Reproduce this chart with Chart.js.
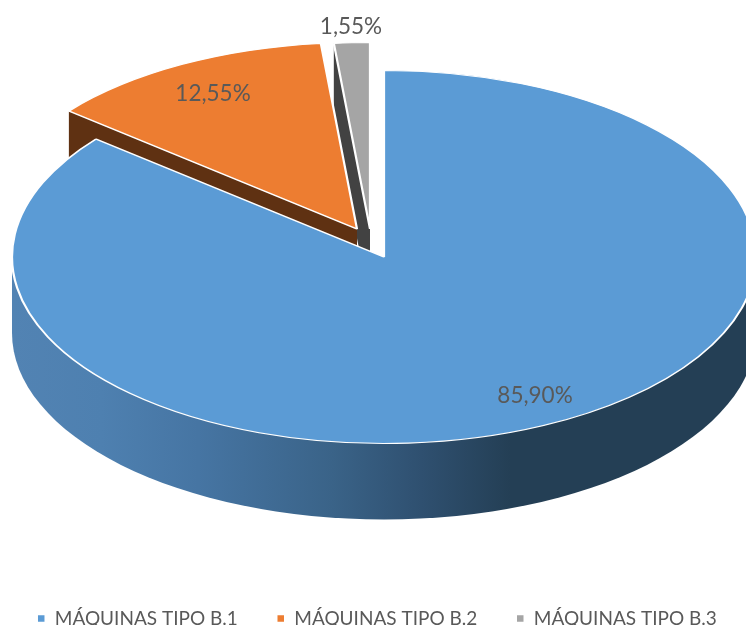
<!DOCTYPE html>
<html><head><meta charset="utf-8">
<style>html,body{margin:0;padding:0;background:#fff}canvas{display:block}</style>
<script src="https://cdn.jsdelivr.net/npm/chart.js@4"></script></head>
<body><canvas id="c" width="746" height="625"></canvas>
<script>
const categories = ['MÁQUINAS TIPO B.1', 'MÁQUINAS TIPO B.2', 'MÁQUINAS TIPO B.3'];
const values = [85.90, 12.55, 1.55];
const colors = ['#5B9BD5', '#ED7D31', '#A5A5A5'];
const wallColors = ['#2F5478', '#5F3112', '#424242'];
const sliceCenters = [[384, 257], [357, 229], [370, 229]];
const labelSpots = [[535, 396], [213, 94], [351, 27]];
const RX = 372, RY = 186.5, DEPTH = 76;
const FONT = 'Lato';

const pie3d = {
  id: 'pie3d',
  afterLayout(chart) {
    const lg = chart.legend;
    lg.maxWidth = 900;
    lg.fit();
    lg.left = -30; lg.right = 784;
    lg.top = 609 - lg.options.labels.padding;
  },
  beforeDatasetsDraw(chart) {
    const ctx = chart.ctx;
    const arcs = chart.getDatasetMeta(0).data;
    const wall = (i) => {
      const a = arcs[i], [cx, cy] = sliceCenters[i];
      const px = cx + RX * Math.cos(a.startAngle), py = cy + RY * Math.sin(a.startAngle);
      ctx.fillStyle = wallColors[i];
      ctx.beginPath();
      ctx.moveTo(px, py); ctx.lineTo(cx, cy); ctx.lineTo(cx, cy + DEPTH); ctx.lineTo(px, py + DEPTH);
      ctx.closePath(); ctx.fill();
    };
    const top = (i) => {
      const a = arcs[i], [cx, cy] = sliceCenters[i];
      const s = RX / a.outerRadius, t = RY / a.outerRadius;
      ctx.save();
      ctx.translate(cx, cy); ctx.scale(s, t); ctx.translate(-a.x, -a.y);
      a.draw(ctx);
      ctx.restore();
    };
    // back slices
    wall(2); top(2); wall(1); top(1);
    // front wall of the main slice
    const [cx, cy] = sliceCenters[0];
    const g = ctx.createLinearGradient(cx - RX, 0, cx + RX, 0);
    g.addColorStop(0, '#5283B3');
    g.addColorStop(0.12, '#4E80B0');
    g.addColorStop(0.25, '#4675A3');
    g.addColorStop(0.43, '#3A6388');
    g.addColorStop(0.55, '#2F5070');
    g.addColorStop(0.67, '#243F55');
    g.addColorStop(1, '#243F55');
    ctx.fillStyle = g;
    ctx.beginPath();
    ctx.moveTo(cx - RX, cy);
    ctx.lineTo(cx - RX, cy + DEPTH);
    ctx.ellipse(cx, cy + DEPTH, RX, RY, 0, Math.PI, 0, true);
    ctx.lineTo(cx + RX, cy);
    ctx.closePath(); ctx.fill();
    top(0);
    // value labels
    ctx.fillStyle = '#595959';
    ctx.font = '22.5px ' + FONT;
    ctx.textAlign = 'center'; ctx.textBaseline = 'middle';
    values.forEach((v, i) => {
      ctx.fillText(v.toFixed(2).replace('.', ',') + '%', labelSpots[i][0], labelSpots[i][1]);
    });
    return false;
  }
};

new Chart(document.getElementById('c'), {
  type: 'pie',
  data: { labels: categories, datasets: [{ data: values, backgroundColor: colors, borderColor: '#fff', borderWidth: 1.5 }] },
  options: {
    responsive: false, animation: false,
    plugins: {
      tooltip: { enabled: false },
      legend: { position: 'bottom', labels: { boxWidth: 8, boxHeight: 8, padding: 39, color: '#595959', font: { family: FONT, size: 19 } } }
    }
  },
  plugins: [pie3d]
});
</script></body></html>
